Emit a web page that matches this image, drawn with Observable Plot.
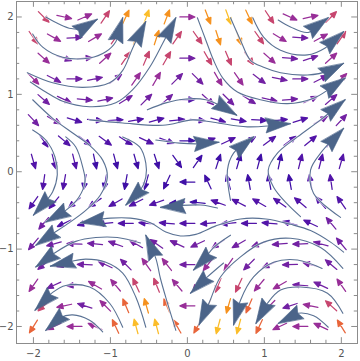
<!DOCTYPE html>
<html><head><meta charset="utf-8">
<script src="https://cdn.jsdelivr.net/npm/d3@7"></script>
<script src="https://cdn.jsdelivr.net/npm/@observablehq/plot@0.6"></script>
<style>body{margin:0;background:#fff}</style>
</head><body><div id="chart"></div>
<script>
// grid rows (y) and the two staggered column sets (x)
const rowY = [2, 1.733, 1.467, 1.2, 0.933, 0.667, 0.4, 0.133, -0.133, -0.4, -0.667, -0.933, -1.2, -1.467, -1.733, -2];
const colsEven = [-1.867,-1.6,-1.333,-1.067,-0.8,-0.533,-0.267,0,0.267,0.533,0.8,1.067,1.333,1.6,1.867];
const colsOdd = [-2,-1.733,-1.467,-1.2,-0.933,-0.667,-0.4,-0.133,0.133,0.4,0.667,0.933,1.2,1.467,1.733,2];

// arrow direction (degrees, counter-clockwise from east), one list per row
const angles = [
  [-45,-12,24,56,65,70,69,0,-69,-70,-65,-56,-24,12,45],
  [-55,-29,3,31,55,70,72,55,-55,-72,-70,-55,-31,-3,29,55],
  [-42,-18,5,42,55,67,60,0,-60,-67,-55,-42,-5,18,42],
  [-45,-27,0,12,37,55,60,45,-45,-60,-55,-37,-12,0,27,45],
  [-41,-25,-5,12,32,45,42,0,-42,-45,-32,-12,5,25,41],
  [-47,-30,-17,-5,3,10,15,5,-5,-15,-10,-3,5,17,30,47],
  [-55,-40,-37,-36,-32,-25,-20,0,20,25,32,36,37,40,55],
  [-74,-76,-76,-78,-75,-74,-72,-55,55,72,74,75,78,76,76,74],
  [-98,-100,-100,-100,-100,-105,-115,180,115,105,100,100,100,100,98],
  [-125,-130,-140,-145,-150,-153,-160,-175,175,160,153,150,145,140,130,125],
  [-130,-155,-165,-175,180,175,175,180,-175,-175,180,175,165,155,130],
  [-130,-165,178,175,160,150,145,155,-155,-145,-150,-160,-175,-178,165,130],
  [-140,-165,178,155,135,125,128,180,-128,-125,-135,-155,-178,165,140],
  [-125,-155,-175,150,130,115,112,130,-130,-112,-115,-130,-150,175,155,125],
  [-138,-168,162,135,113,106,113,180,-113,-106,-113,-135,-162,168,138],
  [-122,-155,180,155,115,105,105,120,-120,-105,-105,-115,-155,180,155,122]
];
// speed level (1 slow ... 8 fast), one list per row
const levels = [
  [5,4,4,5,7,8,7,4,7,8,7,5,4,4,5],
  [5,4,3,4,5,7,7,5,5,7,7,5,4,3,4,5],
  [4,3,3,4,5,5,5,3,5,5,5,4,3,3,4],
  [4,3,3,3,3,4,4,3,3,4,4,3,3,3,3,4],
  [3,3,3,3,3,3,3,2,3,3,3,3,3,3,3],
  [3,3,2,2,2,2,2,2,2,2,2,2,2,2,3,3],
  [2,2,2,2,2,2,2,1,2,2,2,2,2,2,2],
  [2,2,2,1,1,1,1,1,1,1,1,1,1,2,2,2],
  [2,2,1,1,1,1,1,1,1,1,1,1,1,2,2],
  [2,2,2,2,2,2,2,1,1,2,2,2,2,2,2,2],
  [3,2,2,2,2,2,2,2,2,2,2,2,2,2,3],
  [3,3,3,3,3,3,3,3,3,3,3,3,3,3,3,3],
  [3,3,3,3,3,4,4,3,4,4,3,3,3,3,3],
  [4,3,3,4,4,5,5,4,4,5,5,4,4,3,3,4],
  [5,4,3,4,6,7,6,4,6,7,6,4,3,4,5],
  [6,4,4,4,6,8,8,6,6,8,8,6,4,4,4,6]
];
const levelDomain = [1,2,3,4,5,6,7,8];
const levelColors = ["#3f0fa6","#5214a8","#7221a3","#982e98","#c7466f","#e8653a","#f5911e","#fbbd2a"];

// streamlines: points [x, y], the last point is the arrow tip
const streams = [
  [[-1.84,2.0],[-1.67,1.91],[-1.51,1.85],[-1.36,1.85],[-1.17,1.97]],
  [[-2.01,1.78],[-1.88,1.61],[-1.62,1.48],[-1.27,1.47],[-1.06,1.55],[-0.93,1.68],[-0.84,1.99]],
  [[-2.08,1.28],[-1.75,1.15],[-1.36,1.09],[-1.01,1.15],[-0.84,1.31],[-0.71,1.6],[-0.54,1.94]],
  [[-2.04,1.16],[-1.84,1.03],[-1.62,0.91],[-1.27,0.84],[-0.93,0.89],[-0.71,1.06],[-0.49,1.35],[-0.32,1.66],[-0.15,1.99]],
  [[1.18,1.96],[1.34,1.87],[1.57,1.8],[1.83,1.99]],
  [[0.85,1.99],[0.99,1.74],[1.21,1.57],[1.56,1.51],[1.79,1.6],[2.03,1.81]],
  [[0.56,1.99],[0.69,1.7],[0.82,1.44],[0.99,1.35],[1.21,1.28],[1.56,1.25],[1.86,1.31],[2.03,1.4]],
  [[0.13,1.99],[0.24,1.7],[0.34,1.44],[0.46,1.21],[0.65,1.03],[0.95,0.93],[1.3,0.88],[1.64,0.95],[1.86,1.08],[2.05,1.21]],
  [[-0.52,0.8],[-0.28,0.89],[-0.02,0.94],[0.24,0.93],[0.46,0.84],[0.64,0.73]],
  [[-1.27,0.67],[-0.84,0.63],[-0.32,0.6],[0.07,0.67],[0.34,0.64],[0.78,0.58],[1.34,0.62]],
  [[-0.41,0.41],[-0.1,0.37],[0.13,0.36],[0.41,0.38]],
  [[0.56,-0.37],[0.52,0.02],[0.6,0.24],[0.86,0.45]],
  [[1.47,-0.58],[1.3,-0.42],[1.12,-0.2],[1.05,0.02],[1.17,0.24],[1.43,0.45],[1.73,0.67],[2.05,0.93]],
  [[1.99,-0.59],[1.64,-0.28],[1.6,0.02],[1.73,0.24],[2.03,0.56]],
  [[2.03,-1.04],[1.86,-0.91],[1.6,-0.76],[1.34,-0.68],[1.02,-0.61],[0.69,-0.61],[0.37,-0.7],[0.11,-0.81],[-0.09,-0.83],[-0.28,-0.78],[-0.48,-0.66],[-0.74,-0.6],[-1.0,-0.6],[-1.39,-0.66]],
  [[0.39,-0.47],[0.17,-0.43],[-0.35,-0.46]],
  [[-0.84,0.45],[-0.62,0.32],[-0.54,0.11],[-0.54,-0.07],[-0.61,-0.24],[-0.8,-0.43]],
  [[-2.01,0.54],[-1.84,0.41],[-1.72,0.19],[-1.69,-0.04],[-1.75,-0.26],[-1.88,-0.43],[-2.0,-0.56]],
  [[-2.01,0.93],[-1.75,0.69],[-1.49,0.5],[-1.27,0.34],[-1.1,0.15],[-1.04,-0.07],[-1.13,-0.3],[-1.32,-0.5],[-1.58,-0.69],[-1.78,-0.82],[-1.97,-0.95]],
  [[-1.58,0.45],[-1.45,0.32],[-1.36,0.06],[-1.33,-0.13],[-1.41,-0.33],[-1.58,-0.5],[-1.84,-0.65]],
  [[-0.61,-0.92],[-0.91,-0.85],[-1.19,-0.85],[-1.45,-0.9],[-1.71,-1.04],[-1.97,-1.23]],
  [[-0.15,-2.05],[-0.27,-1.66],[-0.35,-1.38],[-0.41,-1.12],[-0.54,-0.82]],
  [[-0.54,-2.01],[-0.67,-1.62],[-0.84,-1.31],[-1.06,-1.17],[-1.32,-1.13],[-1.52,-1.16],[-1.78,-1.22]],
  [[-0.84,-2.01],[-1.01,-1.7],[-1.27,-1.49],[-1.58,-1.47],[-1.75,-1.56],[-1.98,-1.79]],
  [[-1.1,-2.07],[-1.27,-1.92],[-1.49,-1.85],[-1.66,-1.89],[-1.84,-2.05]],
  [[0.56,-0.82],[0.34,-0.98],[0.21,-1.14],[0.08,-1.27]],
  [[0.47,-1.18],[0.26,-1.36],[0.04,-1.57]],
  [[2.02,-1.25],[1.73,-0.98],[1.34,-0.86],[0.99,-0.91],[0.69,-1.1],[0.43,-1.36],[0.28,-1.7],[0.15,-1.98]],
  [[1.75,-1.25],[1.43,-1.14],[1.12,-1.17],[0.86,-1.36],[0.69,-1.66],[0.6,-1.98]],
  [[2.02,-1.83],[1.82,-1.57],[1.47,-1.49],[1.21,-1.53],[1.04,-1.7],[0.89,-1.96]],
  [[1.83,-2.01],[1.64,-1.86],[1.43,-1.83],[1.18,-1.96]]
];

const majorTicks = [-2, -1, 0, 1, 2];
const minorTicks = [-1.8,-1.6,-1.4,-1.2,-0.8,-0.6,-0.4,-0.2,0.2,0.4,0.6,0.8,1.2,1.4,1.6,1.8];

// ---- build tables ----
const arrows = [];
rowY.forEach((y, j) => {
  const xs = (j % 2 === 0) ? colsEven : colsOdd;
  xs.forEach((x, k) => arrows.push({x, y, a: angles[j][k], lvl: levels[j][k]}));
});
const linePts = [];
const tips = [];
streams.forEach((s, i) => {
  s.forEach(([x, y]) => linePts.push({id: i, x, y}));
  const [x0, y0] = s[s.length - 2], [x1, y1] = s[s.length - 1];
  tips.push({x: x1, y: y1, a: Math.atan2(y1 - y0, x1 - x0) * 180 / Math.PI});
});

const X0 = -2.22, X1 = 2.21, Y0 = -2.22, Y1 = 2.2;
const tl = 0.075, ts = 0.042;
const fmt = d => d < 0 ? "\u2212" + Math.abs(d) : String(d);

const smallArrow = {
  draw(ctx, l) {
    const hl = 6, hw = 2.6;
    ctx.moveTo(0, 0);
    ctx.lineTo(0, -(l - hl + 1));
    ctx.moveTo(0, -l);
    ctx.lineTo(hw, -l + hl);
    ctx.lineTo(-hw, -l + hl);
    ctx.closePath();
  }
};
const bigHead = {
  draw(ctx, l) {
    const hw = 7.5;
    ctx.moveTo(0, -l);
    ctx.lineTo(hw, 0);
    ctx.lineTo(0, -3);
    ctx.lineTo(-hw, 0);
    ctx.closePath();
  }
};

const frameColor = "#8c8c8c";
const chart = Plot.plot({
  width: 360, height: 361,
  marginLeft: 16, marginRight: 3, marginTop: 1, marginBottom: 18,
  x: {domain: [X0, X1]},
  y: {domain: [Y0, Y1]},
  color: {type: "ordinal", domain: levelDomain, range: levelColors},
  style: {fontFamily: "DejaVu Sans, sans-serif", fontSize: "10px", background: "white", overflow: "visible"},
  marks: [
    Plot.vector(arrows, {x: "x", y: "y", rotate: d => 90 - d.a, length: 15, anchor: "middle",
      stroke: "lvl", fill: "lvl", strokeWidth: 1.25, shape: smallArrow}),
    Plot.line(linePts, {x: "x", y: "y", z: "id", stroke: "white", strokeOpacity: 0.7, strokeWidth: 2.6, curve: "catmull-rom"}),
    Plot.line(linePts, {x: "x", y: "y", z: "id", stroke: "#5a7294", strokeWidth: 1.1, curve: "catmull-rom"}),
    Plot.vector(tips, {x: "x", y: "y", rotate: d => 90 - d.a, length: 25, anchor: "end",
      fill: "#4b6489", stroke: "#4b6489", strokeWidth: 0.6, shape: bigHead}),
    Plot.frame({stroke: frameColor}),
    Plot.ruleX(majorTicks, {x: d => d, y1: Y0, y2: Y0 + tl, stroke: frameColor}),
    Plot.ruleX(majorTicks, {x: d => d, y1: Y1, y2: Y1 - tl, stroke: frameColor}),
    Plot.ruleX(minorTicks, {x: d => d, y1: Y0, y2: Y0 + ts, stroke: frameColor}),
    Plot.ruleX(minorTicks, {x: d => d, y1: Y1, y2: Y1 - ts, stroke: frameColor}),
    Plot.ruleY(majorTicks, {y: d => d, x1: X0, x2: X0 + tl, stroke: frameColor}),
    Plot.ruleY(majorTicks, {y: d => d, x1: X1, x2: X1 - tl, stroke: frameColor}),
    Plot.ruleY(minorTicks, {y: d => d, x1: X0, x2: X0 + ts, stroke: frameColor}),
    Plot.ruleY(minorTicks, {y: d => d, x1: X1, x2: X1 - ts, stroke: frameColor}),
    Plot.axisX({ticks: majorTicks, tickFormat: fmt, tickSize: 0, tickPadding: 6, label: null, color: "#555"}),
    Plot.axisY({ticks: majorTicks, tickFormat: fmt, tickSize: 0, tickPadding: 3, label: null, color: "#555"})
  ]
});
document.getElementById("chart").appendChild(chart);
</script>
</body></html>
